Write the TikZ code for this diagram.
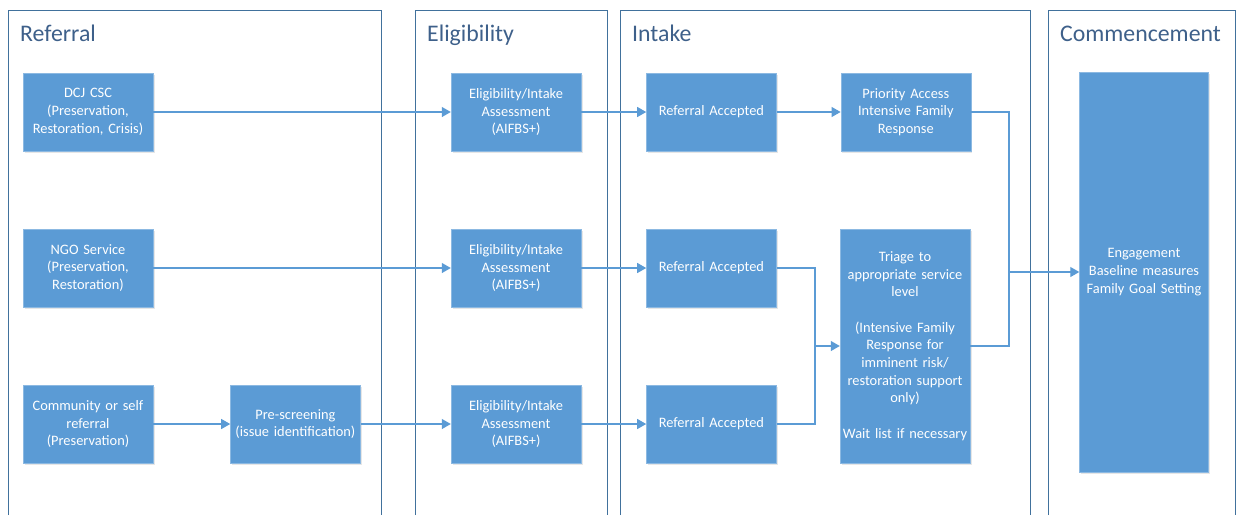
\documentclass[tikz,border=0pt]{standalone}
\usepackage{fontspec}
\setmainfont{Carlito}
\usepackage{xcolor}
\definecolor{boxblue}{RGB}{91,155,213}
\definecolor{laneblue}{RGB}{65,113,156}
\definecolor{titleblue}{RGB}{62,96,138}
\usepackage{tikz}
\usetikzlibrary{arrows.meta,positioning,shadows}
\tikzset{
  stage/.style={draw=boxblue!70!white,fill=boxblue,text=white,%
    minimum width=130pt,minimum height=78pt,text width=128pt,inner sep=0pt,%
    font=\fontsize{14.4}{17.7}\selectfont,align=center,%
    drop shadow={shadow xshift=1.5pt,shadow yshift=-1.5pt,opacity=0.2}},
  lane/.style={draw=laneblue,line width=0.9pt},
  lanetitle/.style={anchor=base west,inner sep=0pt,font=\fontsize{23.8}{28}\selectfont,text=titleblue},
  link/.style={line width=1.1pt,draw=boxblue},
  flow/.style={link,-{Triangle[length=9pt,width=10pt]}},
}

\begin{document}
\begin{tikzpicture}[x=1pt,y=-1pt]
\useasboundingbox (0,0) rectangle (1237,515);
% swim lanes
\draw[lane] (8,515) |- (381,10) -- (381,515);
\draw[lane] (415,515) |- (607,10) -- (607,515);
\draw[lane] (620,515) |- (1030,10) -- (1030,515);
\draw[lane] (1048,515) |- (1235,10) -- (1235,515);
\node[lanetitle] (tref) at (20,41) {Referral};
\node[lanetitle] (telig) at (427,41) {Eligibility};
\node[lanetitle] (tint) at (632,41) {Intake};
\node[lanetitle] (tcom) at (1060,41) {Commencement};
% referral sources
\node[stage] (dci) at (88,112) {DCJ CSC\\(Preservation,\\Restoration, Crisis)};
\node[stage] (ngo) at (88,268) {NGO Service\\(Preservation,\\Restoration)};
\node[stage] (comm) at (88,424) {Community or self\\referral\\(Preservation)};
\node[stage,right=77pt of comm] (pre) {Pre-screening\\(issue identification)};
% eligibility
\node[stage] (elig1) at (516,112) {Eligibility/Intake\\Assessment\\(AIFBS+)};
\node[stage] (elig2) at (516,268) {Eligibility/Intake\\Assessment\\(AIFBS+)};
\node[stage] (elig3) at (516,424) {Eligibility/Intake\\Assessment\\(AIFBS+)};
% intake
\node[stage,right=65pt of elig1] (acc1) {Referral Accepted};
\node[stage,right=65pt of elig2] (acc2) {Referral Accepted};
\node[stage,right=65pt of elig3] (acc3) {Referral Accepted};
\node[stage,right=64pt of acc1] (prio) {Priority Access\\Intensive Family\\Response};
\node[stage,minimum height=234pt] (triage) at (905,346)
  {Triage to\\appropriate service\\level\\[17.7pt](Intensive Family\\Response for\\imminent risk/\\restoration support\\only)\\[17.7pt]Wait list if necessary};
% commencement
\node[stage,minimum width=129pt,minimum height=400pt] (engage) at (1144,272)
  {Engagement\\Baseline measures\\Family Goal Setting};
\coordinate (joinA) at (815,346);
\coordinate (joinB) at (1009,272);
\draw[flow] (dci) -- (elig1);
\draw[flow] (ngo) -- (elig2);
\draw[flow] (comm) -- (pre);
\draw[flow] (pre) -- (elig3);
\draw[flow] (elig1) -- (acc1);
\draw[flow] (elig2) -- (acc2);
\draw[flow] (elig3) -- (acc3);
\draw[flow] (acc1) -- (prio);
\draw[link] (acc2) -| (joinA);
\draw[link] (acc3) -| (joinA);
\draw[flow] (joinA) -- (triage);
\draw[link] (prio) -| (joinB);
\draw[link] (triage) -| (joinB);
\draw[flow] (joinB) -- (engage);
\end{tikzpicture}
\end{document}
